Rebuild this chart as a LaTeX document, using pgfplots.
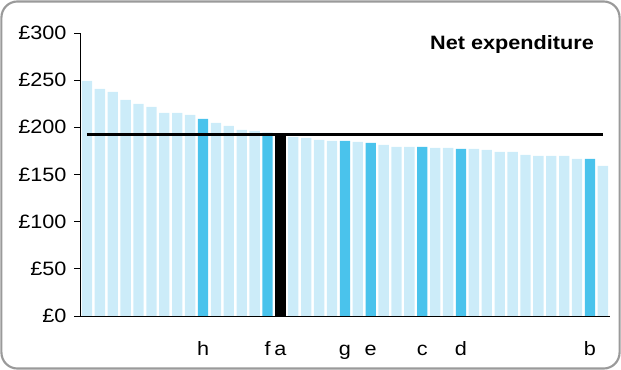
\documentclass[border=0pt]{standalone}
\usepackage{pgfplots}
\pgfplotsset{compat=1.18}
\usepackage{fontspec}
\setmainfont{Liberation Sans}[FakeStretch=1.12]
\definecolor{lightb}{HTML}{CCECF9}
\definecolor{darkb}{HTML}{4AC3EC}
\definecolor{framec}{HTML}{9A9A9A}
\begin{document}
\begin{tikzpicture}[x=1pt,y=1pt]
\useasboundingbox (-60.375,-40.5) rectangle (405.375,237);
\draw[framec, line width=1.6pt, rounded corners=12pt] (-59.3,-39.4) rectangle (404.3,235.9);
\begin{axis}[
  at={(0pt,0pt)}, anchor=south west,
  width=397.1pt, height=212.25pt, scale only axis,
  xmin=-0.5, xmax=40.55, ymin=0, ymax=300,
  axis x line*=bottom, axis y line*=left,
  axis line style={black, line width=0.7pt},
  ybar, bar width=0.8,
  ytick={0,50,100,150,200,250,300},
  yticklabels={£0,£50,£100,£150,£200,£250,£300},
  xtick={9,14,15,20,22,26,29,39},
  xticklabels={h,f,a,g,e,c,d,b},
  x tick style={draw=none},
  y tick style={black, line width=0.6pt},
  tick align=outside, major tick length=4.5pt,
  tick label style={font=\fontsize{14.5pt}{17pt}\selectfont},
  xticklabel style={anchor=base, yshift=-25pt},
  yticklabel style={anchor=east, xshift=-2.5pt},
]
\addplot[fill=lightb, draw=none, bar shift=0pt] coordinates {
(0,249.2) (1,240.7) (2,237.5) (3,229) (4,224.8) (5,221.6) (6,215.3) (7,215.3) (8,213.1)
(10,204.7) (11,201.5) (12,197.2) (13,196.2)
(16,189.8) (17,188.8) (18,186.6) (19,185.6)
(21,184.5) (23,181.3) (24,179.2) (25,179.2) (27,178.2) (28,178.2)
(30,177.1) (31,176) (32,173.9) (33,173.9) (34,170.7) (35,169.7) (36,169.7) (37,169.7) (38,166.5)
(40,159.1)
};
\addplot[fill=darkb, draw=none, bar shift=0pt] coordinates {
(9,208.9) (14,194.1) (20,185.6) (22,183.5) (26,179.2) (29,177.1) (39,166.5)
};
\addplot[fill=black, draw=none, bar shift=0pt] coordinates {(15,192)};
\addplot[sharp plot, black, line width=2.2pt, mark=none] coordinates {(0,192) (40,192)};
\node[font=\bfseries\fontsize{14.5pt}{17pt}\selectfont] at (rel axis cs:0.815,0.961) {Net expenditure};
\end{axis}
\end{tikzpicture}
\end{document}
